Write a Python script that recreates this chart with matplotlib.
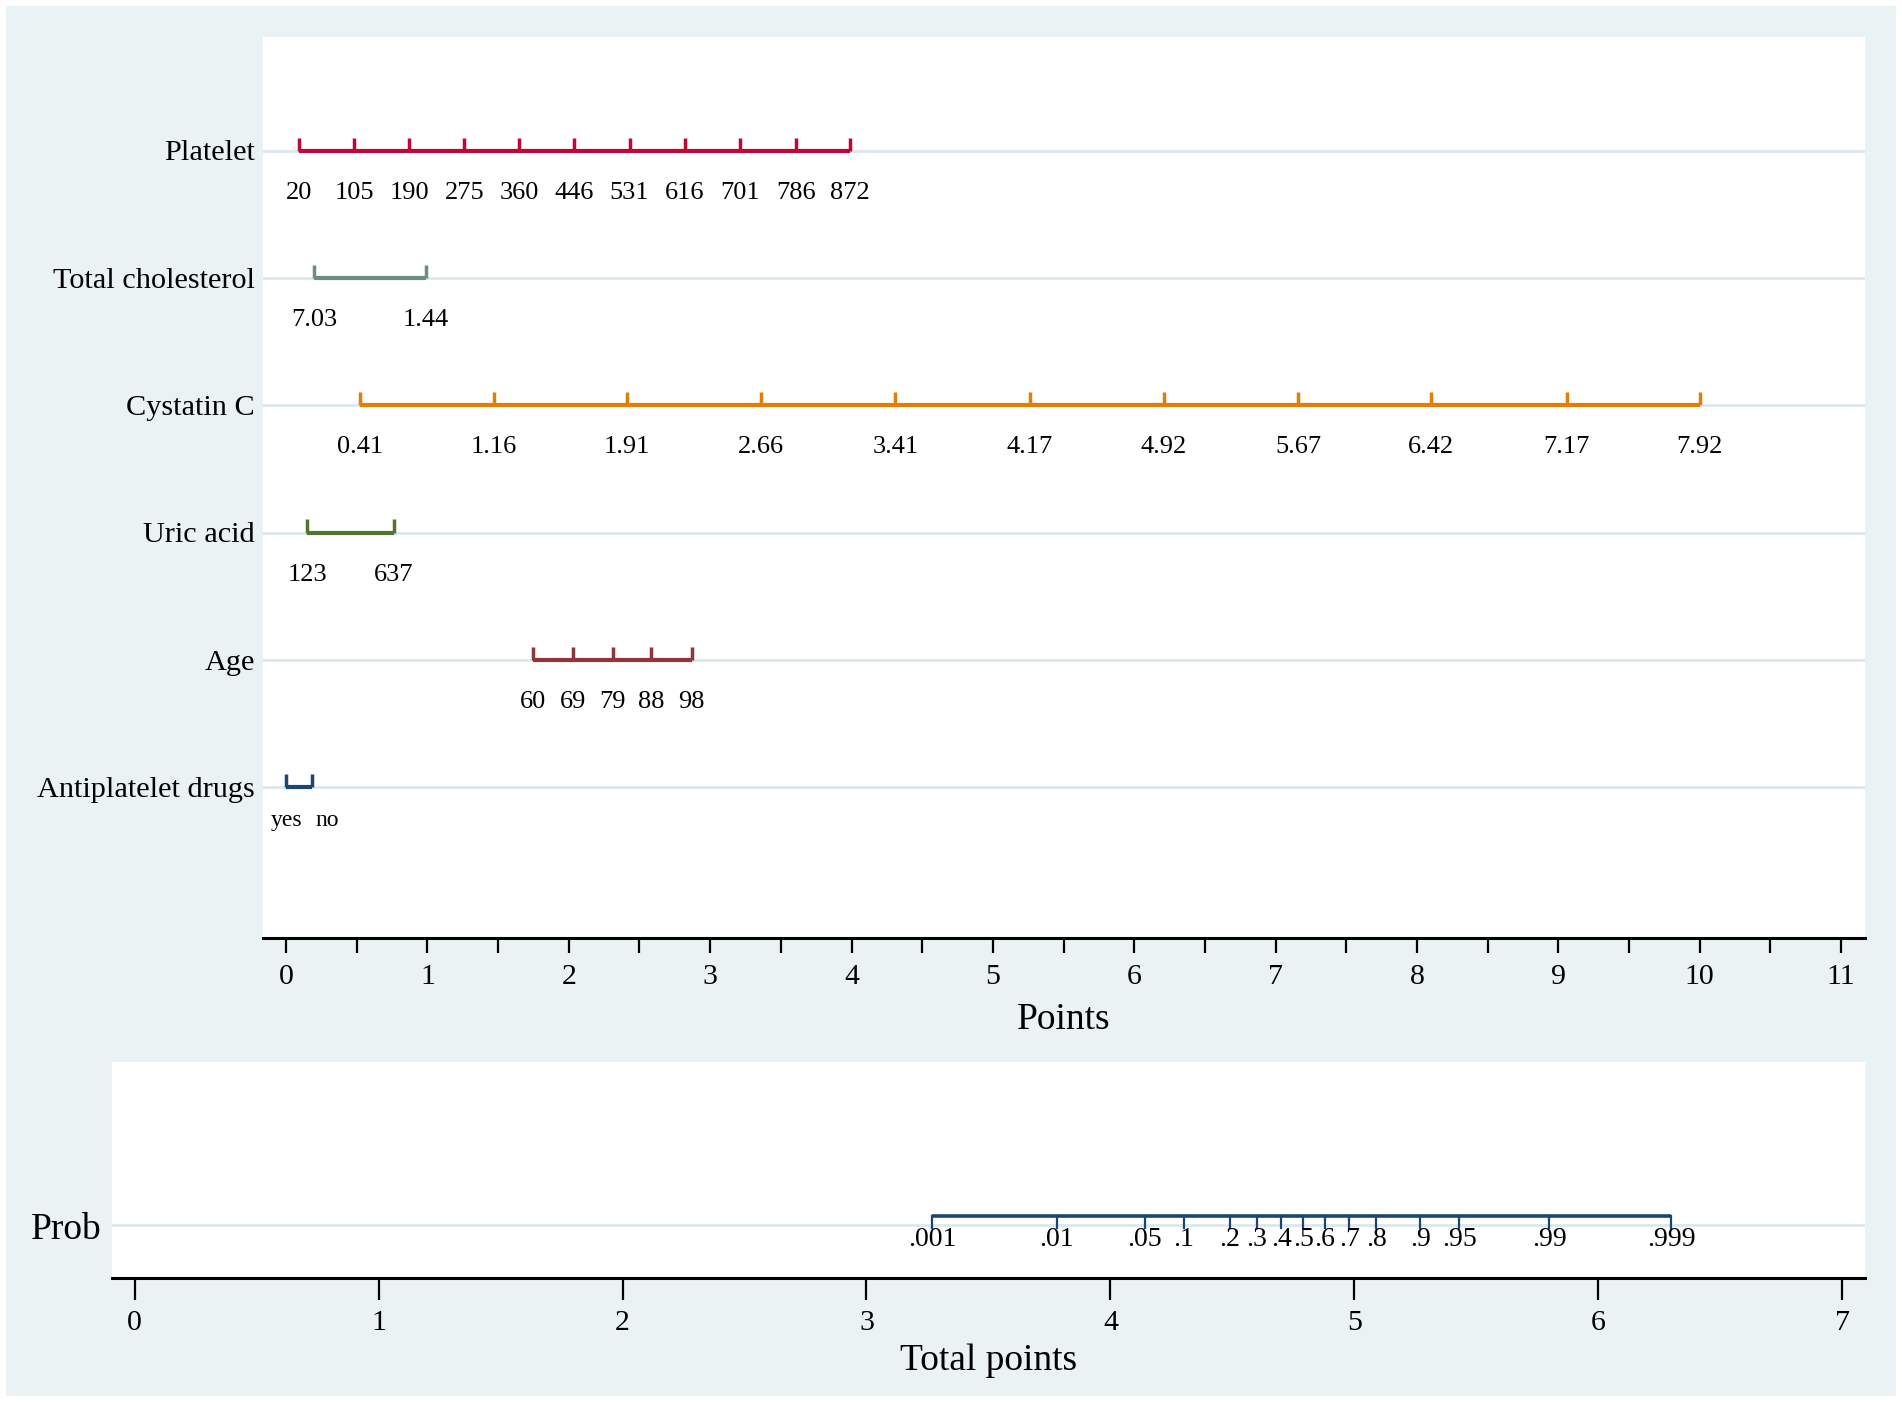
import matplotlib
matplotlib.use('Agg')
import matplotlib.pyplot as plt
from matplotlib.patches import Rectangle
from matplotlib.transforms import blended_transform_factory

plt.rcParams['font.family'] = ['Liberation Serif', 'DejaVu Serif']

# nomogram rows (top to bottom): name, tick labels, points, colour
variables = ['Platelet', 'Total cholesterol', 'Cystatin C', 'Uric acid', 'Age', 'Antiplatelet drugs']

platelet_labels = ['20', '105', '190', '275', '360', '446', '531', '616', '701', '786', '872']
platelet_points = [0.09, 0.48, 0.87, 1.26, 1.65, 2.04, 2.43, 2.82, 3.21, 3.61, 3.99]

chol_labels = ['7.03', '1.44']
chol_points = [0.20, 0.99]

cystatin_labels = ['0.41', '1.16', '1.91', '2.66', '3.41', '4.17', '4.92', '5.67', '6.42', '7.17', '7.92']
cystatin_points = [0.52, 1.47, 2.41, 3.36, 4.31, 5.26, 6.21, 7.16, 8.10, 9.06, 10.0]

uric_labels = ['123', '637']
uric_points = [0.15, 0.76]

age_labels = ['60', '69', '79', '88', '98']
age_points = [1.75, 2.03, 2.31, 2.58, 2.87]

drug_labels = ['yes', 'no']
drug_points = [0.0, 0.18]

prob_labels = ['.001', '.01', '.05', '.1', '.2', '.3', '.4', '.5', '.6', '.7', '.8', '.9', '.95', '.99', '.999']
prob_total = [3.27, 3.78, 4.14, 4.30, 4.49, 4.60, 4.70, 4.79, 4.88, 4.98, 5.09, 5.27, 5.43, 5.80, 6.30]

points_ticks = list(range(0, 12))
total_ticks = list(range(0, 8))

colors = ['#C10534', '#6E8E84', '#E37E00', '#55752F', '#90353B', '#1A476F']
bg = '#EAF2F3'
grid_col = '#DDE8EC'

fig = plt.figure(figsize=(19.02, 14.02), dpi=100)
fig.patch.set_facecolor('white')
fig.patches.append(Rectangle((0.0032, 0.0043), 0.9936, 0.9914, transform=fig.transFigure,
                             facecolor=bg, edgecolor='none', zorder=-10))

# ---- top panel: points nomogram
ax = fig.add_axes([0.1383, 0.3313, 0.9806 - 0.1383, 0.9736 - 0.3313])
ax.set_facecolor('white')
ax.set_xlim(-0.163, 11.17)
ax.set_ylim(-0.181, 6.895)

scales = [
    (platelet_labels, platelet_points),
    (chol_labels, chol_points),
    (cystatin_labels, cystatin_points),
    (uric_labels, uric_points),
    (age_labels, age_points),
    (drug_labels, drug_points),
]
trans = blended_transform_factory(ax.transAxes, ax.transData)
for i, (name, (labs, pts), col) in enumerate(zip(variables, scales, colors)):
    y = 6 - i
    ax.axhline(y, color=grid_col, lw=2, zorder=1)
    ax.plot([pts[0], pts[-1]], [y, y], color=col, lw=3, solid_capstyle='butt', zorder=3)
    for p in pts:
        ax.plot([p, p], [y, y + 0.105], color=col, lw=2.5, solid_capstyle='butt', zorder=3)
    if name == 'Antiplatelet drugs':
        ax.annotate(labs[0], (pts[0], y - 0.26), ha='center', va='center', fontsize=17)
        ax.annotate(labs[1], (pts[1], y - 0.26), xytext=(3, 0), textcoords='offset points',
                    ha='left', va='center', fontsize=17)
    else:
        for lab, p in zip(labs, pts):
            ax.text(p, y - 0.33, lab, ha='center', va='center', fontsize=19)
    ax.text(-0.005, y - 0.02, name, transform=trans, ha='right', va='center', fontsize=21.8)

for s in ['top', 'right', 'left']:
    ax.spines[s].set_visible(False)
ax.spines['bottom'].set_linewidth(2.2)
ax.set_yticks([])
ax.set_xticks(points_ticks)
ax.set_xticks([t + 0.5 for t in points_ticks[:-1]], minor=True)
ax.tick_params(axis='x', which='both', length=11, width=1.6, direction='out')
ax.tick_params(axis='x', which='major', labelsize=21.5, pad=8)
ax.set_xlabel('Points', fontsize=27, labelpad=9)

# ---- bottom panel: probability scale
ax2 = fig.add_axes([0.0587, 0.0882, 0.9806 - 0.0587, 0.2422 - 0.0882])
ax2.set_facecolor('white')
ax2.set_xlim(-0.0945, 7.094)
ax2.set_ylim(0, 1)
ax2.axhline(0.247, color=grid_col, lw=2, zorder=1)
ax2.plot([prob_total[0], prob_total[-1]], [0.29, 0.29], color='#1A476F', lw=2.6,
         solid_capstyle='butt', zorder=3)
for p, lab in zip(prob_total, prob_labels):
    ax2.plot([p, p], [0.29, 0.235], color='#1A476F', lw=1.6, zorder=3)
    ax2.text(p, 0.18, lab, ha='center', va='center', fontsize=20)
ax2.text(-0.006, 0.225, 'Prob', transform=ax2.transAxes, ha='right', va='center', fontsize=27)

for s in ['top', 'right', 'left']:
    ax2.spines[s].set_visible(False)
ax2.spines['bottom'].set_linewidth(2.2)
ax2.set_yticks([])
ax2.set_xticks(total_ticks)
ax2.tick_params(axis='x', length=16, width=1.6, labelsize=21.5, pad=7)
ax2.set_xlabel('Total points', fontsize=27, labelpad=5)

fig.savefig('out.png', dpi=100, facecolor=fig.get_facecolor())
